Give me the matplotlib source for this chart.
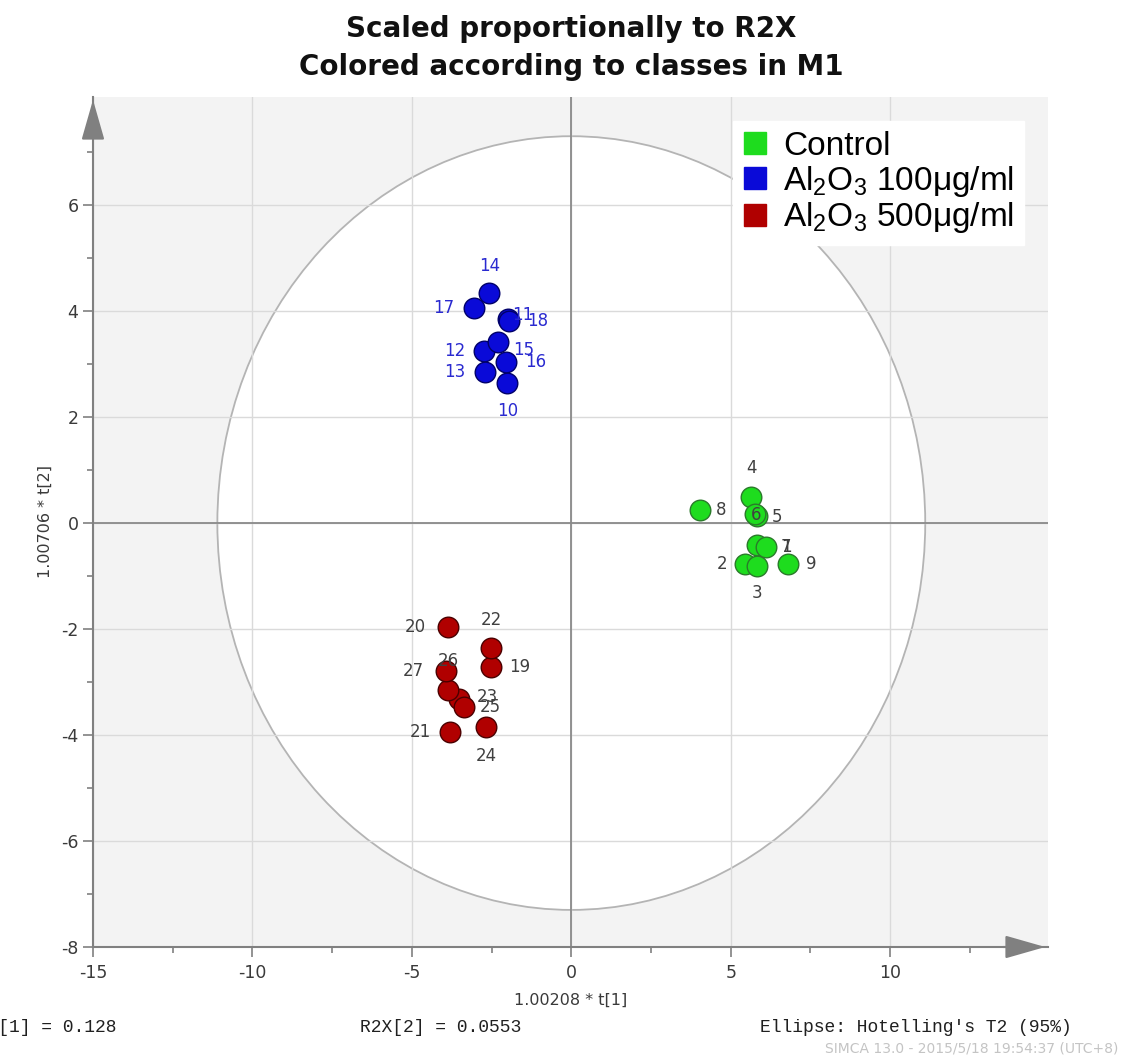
import numpy as np
import matplotlib
matplotlib.use('Agg')
import matplotlib.pyplot as plt
from matplotlib.patches import Ellipse
from matplotlib.lines import Line2D

plt.rcParams['mathtext.fontset'] = 'custom'
plt.rcParams['mathtext.rm'] = 'Liberation Sans'
plt.rcParams['mathtext.it'] = 'Liberation Sans'
plt.rcParams['mathtext.bf'] = 'Liberation Sans'
plt.rcParams['axes.unicode_minus'] = False

# Score data (t[1], t[2]) per class
ctrl_ids = ['1', '2', '3', '4', '5', '6', '7', '8', '9']
ctrl_t1 = [5.83, 5.45, 5.83, 5.64, 5.83, 5.77, 6.11, 4.04, 6.80]
ctrl_t2 = [-0.42, -0.77, -0.81, 0.49, 0.13, 0.17, -0.45, 0.25, -0.77]

lo_ids = ['10', '11', '12', '13', '14', '15', '16', '17', '18']
lo_t1 = [-2.01, -1.97, -2.73, -2.70, -2.57, -2.29, -2.04, -3.04, -1.94]
lo_t2 = [2.64, 3.85, 3.25, 2.85, 4.34, 3.42, 3.04, 4.06, 3.81]

hi_ids = ['19', '20', '21', '22', '23', '24', '25', '26', '27']
hi_t1 = [-2.51, -3.86, -3.79, -2.51, -3.51, -2.66, -3.35, -3.86, -3.92]
hi_t2 = [-2.72, -1.96, -3.94, -2.36, -3.32, -3.85, -3.47, -3.15, -2.79]

class_names = ['Control', r'Al$_2$O$_3$ 100μg/ml', r'Al$_2$O$_3$ 500μg/ml']

# Hotelling T2 ellipse half axes
ell_a = 11.1
ell_b = 7.3

# label offsets in pixels (dx right, dy down)
label_off = {
    '1': (29, 2), '2': (-23, 0), '3': (0, 27), '4': (0, -29), '5': (20, 1),
    '6': (1, 1), '7': (20, 0), '8': (21, 0), '9': (23, 0),
    '10': (0, 28), '11': (14, -4), '12': (-29, 0), '13': (-30, 0), '14': (0, -27),
    '15': (25, 8), '16': (29, 0), '17': (-31, 0), '18': (28, 0),
    '19': (28, 0), '20': (-33, 0), '21': (-30, 0), '22': (0, -28), '23': (28, -2),
    '24': (0, 29), '25': (26, 0), '26': (0, -29), '27': (-33, 0),
}

fig = plt.figure(figsize=(11.21, 10.59), dpi=100)
ax = fig.add_axes([93/1121, 1 - 947/1059, (1048 - 93)/1121, (947 - 97)/1059])
ax.set_facecolor('#f3f3f3')
ax.set_xlim(-15, 14.95)
ax.set_ylim(-8, 8.04)

# ellipse
ax.add_patch(Ellipse((0, 0), 2*ell_a, 2*ell_b, facecolor='white',
                     edgecolor='#b4b4b4', lw=1.3, zorder=0.2))

# grid and zero lines
ax.set_axisbelow(True)
ax.set_xticks([-15, -10, -5, 0, 5, 10])
ax.set_yticks([-8, -6, -4, -2, 0, 2, 4, 6])
ax.set_xticks(np.arange(-12.5, 14, 2.5), minor=True)
ax.set_yticks(np.arange(-7, 8, 2), minor=True)
ax.grid(True, which='major', color='#dadada', lw=1)
ax.axhline(0, color='#8a8a8a', lw=1.3, zorder=1)
ax.axvline(0, color='#8a8a8a', lw=1.3, zorder=1)

for sp in ['top', 'right']:
    ax.spines[sp].set_visible(False)
for sp in ['left', 'bottom']:
    ax.spines[sp].set_color('#808080')
    ax.spines[sp].set_linewidth(1.5)

ax.tick_params(which='major', length=7, width=1.2, color='#808080', labelsize=12.5,
               labelcolor='#3a3a3a')
ax.tick_params(which='minor', length=4, width=1.2, color='#808080')
ax.tick_params(axis='x', pad=5)

# arrow heads
ax.annotate('', xy=(0, 1.0), xytext=(0, 0.95), xycoords='axes fraction',
            arrowprops=dict(arrowstyle='-|>,head_length=1.4,head_width=0.4',
                            color='#808080', lw=1.5, mutation_scale=18))
ax.annotate('', xy=(1.0, 0), xytext=(0.95, 0), xycoords='axes fraction',
            arrowprops=dict(arrowstyle='-|>,head_length=1.4,head_width=0.4',
                            color='#808080', lw=1.5, mutation_scale=18))

groups = [
    (ctrl_ids, ctrl_t1, ctrl_t2, '#1edc1e', '#2a7a2a', '#404040'),
    (lo_ids, lo_t1, lo_t2, '#0a0ad8', '#00006a', '#2a2ad0'),
    (hi_ids, hi_t1, hi_t2, '#b00000', '#4a0000', '#404040'),
]
for ids, t1, t2, fc, ec, tc in groups:
    ax.scatter(t1, t2, s=220, c=fc, edgecolors=ec, linewidths=1, zorder=3)
    for lab, x, y in zip(ids, t1, t2):
        dx, dy = label_off[lab]
        ax.annotate(lab, (x, y), xytext=(dx, -dy), textcoords='offset pixels',
                    ha='center', va='center', fontsize=12, color=tc, zorder=4)

handles = [Line2D([], [], ls='none', marker='s', markersize=16, color=g[3],
                  markeredgecolor=g[3]) for g in groups]
leg = ax.legend(handles, class_names, loc='upper left',
                bbox_to_anchor=(733/1121, 1 - 121/1059), bbox_transform=fig.transFigure,
                prop={'family': 'Liberation Sans', 'size': 24}, frameon=True,
                fancybox=False, framealpha=1, edgecolor='white', facecolor='white',
                labelspacing=0.05, handlelength=0.7, handletextpad=0.5,
                borderpad=0.3, borderaxespad=0)
leg.set_zorder(5)

ax.set_xlabel('1.00208 * t[1]', fontsize=11.5, color='#3a3a3a', labelpad=8)
ax.set_ylabel('1.00706 * t[2]', fontsize=11.5, color='#3a3a3a', labelpad=6)

fig.text(571/1121, 1 - 29/1059, 'Scaled proportionally to R2X', ha='center', va='center',
         fontsize=20, fontweight='bold', family='DejaVu Sans', color='#111111')
fig.text(571/1121, 1 - 67/1059, 'Colored according to classes in M1', ha='center',
         va='center', fontsize=20, fontweight='bold', family='DejaVu Sans', color='#111111')

fig.text(-34/1121, 1 - 1028/1059, 'R2X[1] = 0.128', ha='left', va='center',
         fontsize=13, family='Liberation Mono', color='#202020')
fig.text(360/1121, 1 - 1028/1059, 'R2X[2] = 0.0553', ha='left', va='center',
         fontsize=13, family='Liberation Mono', color='#202020')
fig.text(760/1121, 1 - 1028/1059, "Ellipse: Hotelling's T2 (95%)", ha='left', va='center',
         fontsize=13, family='Liberation Mono', color='#202020')
fig.text(1118/1121, 1 - 1048/1059, 'SIMCA 13.0 - 2015/5/18 19:54:37 (UTC+8)', ha='right',
         va='center', fontsize=10, color='#c4c4c4')

fig.savefig('out.png', dpi=100)
